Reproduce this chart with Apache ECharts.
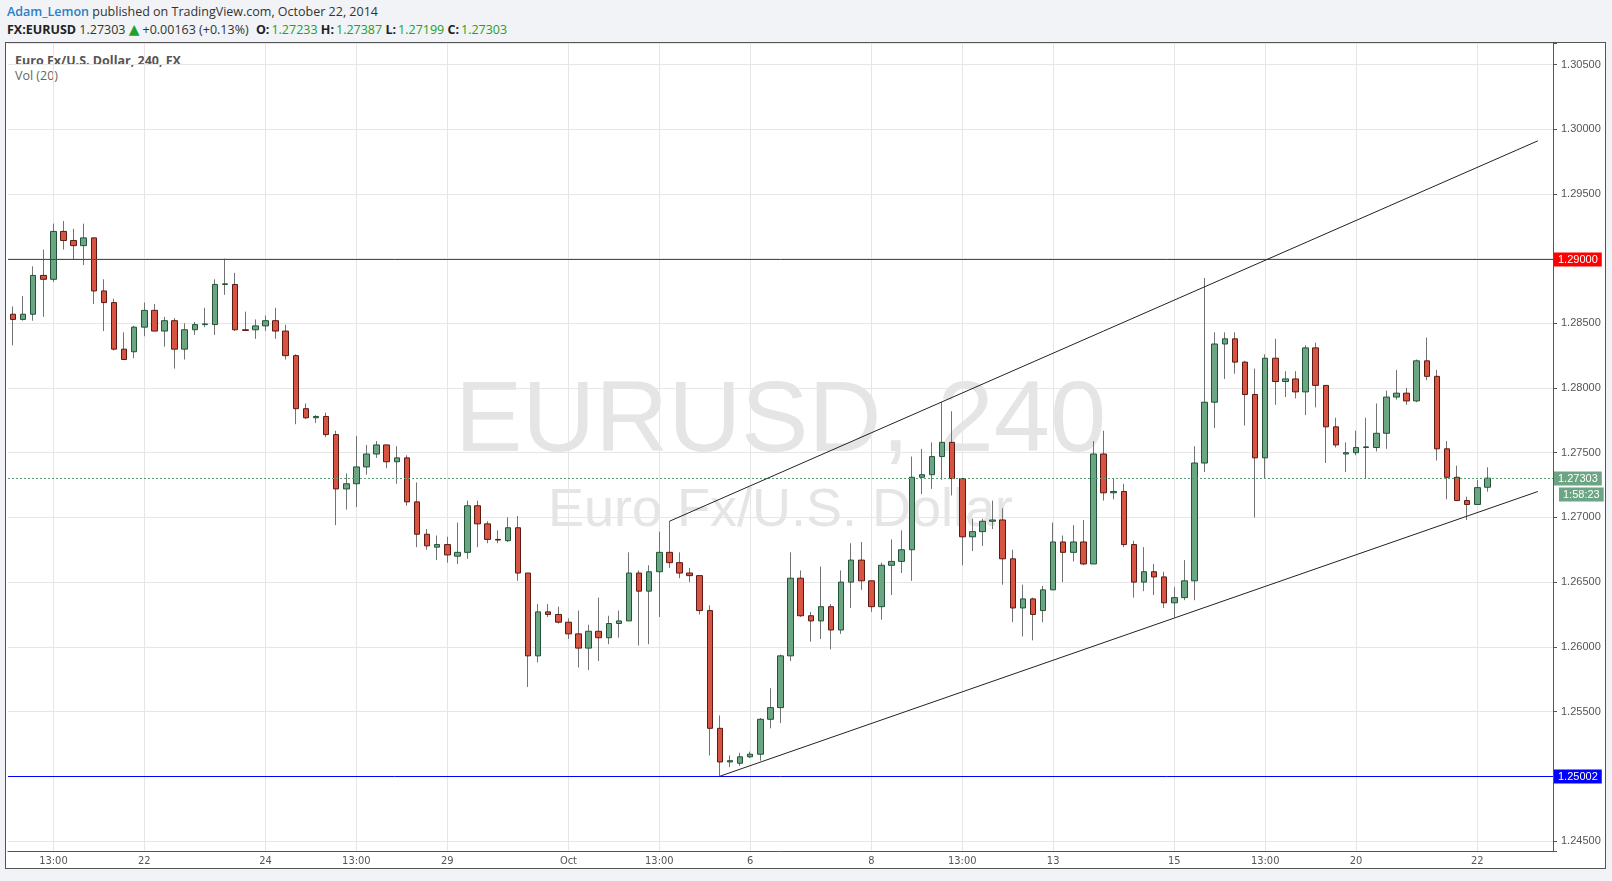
<!DOCTYPE html>
<html>
<head>
<meta charset="utf-8">
<script src="https://cdn.jsdelivr.net/npm/echarts@6/dist/echarts.min.js"></script>
<style>
html,body{margin:0;padding:0;width:1612px;height:881px;overflow:hidden;background:#f1f3f6;}
#panel{position:absolute;left:5px;top:42px;width:1601px;height:827px;box-sizing:border-box;border:1px solid #555;background:#fff;}
.hd{position:absolute;left:7px;font-family:'Open Sans',sans-serif;font-size:12.5px;line-height:18px;color:#333;white-space:nowrap;}
#h1{top:3px;}
#h2{top:20px;}
.b{font-weight:bold;color:#222;}
.g{color:#22a02a;margin-left:2px;}
.tri{color:#22a02a;font-size:14px;font-family:'DejaVu Sans',sans-serif;margin-right:3px;}
.lg{position:absolute;left:15px;font-family:'Open Sans',sans-serif;font-size:12.5px;line-height:16px;white-space:nowrap;}
#lg1{top:53px;font-weight:bold;color:#555;}
#lg2{top:68px;color:#666;}
.wm{position:absolute;left:8px;width:1545px;text-align:center;font-family:'Liberation Sans',Arial,sans-serif;color:#e5e5e5;white-space:nowrap;}
#wm1{top:366px;font-size:101px;line-height:101px;}
#wm2{top:480px;font-size:54px;line-height:54px;}
#chart{position:absolute;left:0;top:0;width:1612px;height:881px;}
</style>
</head>
<body>
<div class="hd" id="h1"><span style="color:#2a7fc4;font-weight:600">Adam_Lemon</span> published on TradingView.com, October 22, 2014</div>
<div class="hd" id="h2"><span class="b">FX:EURUSD</span> 1.27303 <span class="tri">&#9650;</span>+0.00163 (+0.13%) <span class="b" style="margin-left:4px">O:</span><span class="g">1.27233</span> <span class="b">H:</span><span class="g">1.27387</span> <span class="b">L:</span><span class="g">1.27199</span> <span class="b">C:</span><span class="g">1.27303</span></div>
<div id="panel"></div>
<div class="wm" id="wm1">EURUSD, 240</div>
<div class="wm" id="wm2">Euro Fx/U.S. Dollar</div>
<div class="lg" id="lg1">Euro Fx/U.S. Dollar, 240, FX</div>
<div class="lg" id="lg2">Vol (20)</div>
<div id="chart"></div>
<script>
// ---- data (4h candles, EUR/USD) ----
const open = [
1.2857,1.2853,1.2857,1.2887,1.2884,1.2921,1.2914,1.2910,1.2916,1.2875,
1.2866,1.2830,1.2828,1.2847,1.2860,1.2844,1.2852,1.2830,1.2845,1.2849,
1.2849,1.2880,1.2880,1.2845,1.2845,1.2848,1.2852,1.2844,1.2825,1.2784,
1.2777,1.2778,1.2764,1.2722,1.2726,1.2739,1.2749,1.2756,1.2743,1.2746,
1.2712,1.2687,1.2677,1.2679,1.2670,1.2673,1.2709,1.2695,1.2683,1.2682,
1.2692,1.2657,1.2593,1.2627,1.2625,1.2619,1.2610,1.2599,1.2612,1.2607,
1.2618,1.2620,1.2657,1.2643,1.2658,1.2673,1.2665,1.2657,1.2655,1.2628,
1.2537,1.2511,1.2510,1.2515,1.2517,1.2544,1.2553,1.2593,1.2653,1.2624,
1.2620,1.2631,1.2613,1.2650,1.2667,1.2651,1.2631,1.2663,1.2666,1.2675,
1.2731,1.2733,1.2747,1.2758,1.2730,1.2685,1.2689,1.2697,1.2698,1.2668,
1.2630,1.2637,1.2628,1.2644,1.2681,1.2673,1.2681,1.2664,1.2749,1.2719,
1.2720,1.2679,1.2650,1.2658,1.2654,1.2634,1.2638,1.2651,1.2742,1.2789,
1.2834,1.2838,1.2820,1.2795,1.2746,1.2823,1.2805,1.2807,1.2797,1.2831,
1.2802,1.2770,1.2749,1.2750,1.2754,1.2754,1.2765,1.2793,1.2796,1.2790,
1.2821,1.2809,1.2753,1.2731,1.2713,1.2710,1.27233
];
const close = [
1.2853,1.2857,1.2887,1.2884,1.2921,1.2914,1.2910,1.2916,1.2875,1.2866,
1.2830,1.2822,1.2847,1.2860,1.2844,1.2852,1.2830,1.2845,1.2849,1.28495,
1.2880,1.28805,1.2845,1.28445,1.2848,1.2852,1.2844,1.2825,1.2784,1.2777,
1.2778,1.2764,1.2722,1.2726,1.2739,1.2749,1.2756,1.2743,1.2746,1.2712,
1.2687,1.2678,1.2679,1.2671,1.2673,1.2709,1.2695,1.2683,1.26825,1.2692,
1.2657,1.2593,1.2627,1.2625,1.2619,1.2610,1.2599,1.2612,1.2607,1.2618,
1.2620,1.2657,1.2643,1.2658,1.2673,1.2665,1.2657,1.2655,1.2628,1.2537,
1.2511,1.2512,1.2515,1.2517,1.2544,1.2553,1.2593,1.2653,1.2624,1.2620,
1.2631,1.2613,1.2650,1.2667,1.2651,1.2631,1.2663,1.2666,1.2675,1.2731,
1.2733,1.2747,1.2758,1.2730,1.2685,1.2689,1.2697,1.2698,1.2668,1.2630,
1.2637,1.2625,1.2644,1.2681,1.2673,1.2681,1.2664,1.2749,1.2719,1.2720,
1.2679,1.2650,1.2658,1.2654,1.2634,1.2638,1.2651,1.2742,1.2789,1.2834,
1.2838,1.2820,1.2795,1.2746,1.2823,1.2805,1.2807,1.2797,1.2831,1.2802,
1.2770,1.2756,1.2750,1.2754,1.27545,1.2765,1.2793,1.2796,1.2790,1.2821,
1.2809,1.2753,1.2731,1.2713,1.2710,1.2723,1.27303
];
const low = [
1.2833,1.2852,1.2852,1.2855,1.2882,1.2907,1.2899,1.2895,1.2865,1.2844,
1.2829,1.2822,1.2823,1.2840,1.2844,1.2832,1.2815,1.2822,1.2841,1.2847,
1.2841,1.2872,1.2844,1.2844,1.2838,1.2844,1.2838,1.2822,1.2772,1.2776,
1.2773,1.2762,1.2694,1.2706,1.2708,1.2733,1.2746,1.2738,1.2726,1.2709,
1.2677,1.2675,1.2667,1.2665,1.2664,1.2668,1.2677,1.2680,1.2680,1.2681,
1.2651,1.2569,1.2588,1.2623,1.2618,1.2606,1.2584,1.2582,1.2589,1.2602,
1.2607,1.2620,1.2601,1.2602,1.2623,1.2661,1.2653,1.2650,1.2625,1.2516,
1.2500,1.2507,1.2508,1.2514,1.2512,1.2537,1.2541,1.2589,1.2623,1.2604,
1.2606,1.2598,1.2610,1.2630,1.2644,1.2627,1.2621,1.2640,1.2657,1.2651,
1.2718,1.2722,1.2729,1.2717,1.2663,1.2674,1.2678,1.2691,1.2648,1.2619,
1.2608,1.2605,1.2619,1.2644,1.2650,1.2666,1.2663,1.2664,1.2713,1.2714,
1.2677,1.2638,1.2643,1.2640,1.2630,1.2623,1.2636,1.2636,1.2735,1.2769,
1.2807,1.2811,1.2771,1.2700,1.2730,1.2787,1.2793,1.2792,1.2779,1.2785,
1.2742,1.2754,1.2735,1.2748,1.2730,1.2751,1.2753,1.2791,1.2787,1.2789,
1.2806,1.2744,1.2714,1.2713,1.2698,1.2710,1.27199
];
const high = [
1.2863,1.2871,1.2894,1.2907,1.2927,1.2929,1.2923,1.2927,1.2916,1.2884,
1.2869,1.2843,1.2848,1.2866,1.2865,1.2855,1.2854,1.2850,1.2851,1.2862,
1.2884,1.2900,1.2889,1.2859,1.2853,1.2856,1.2862,1.2849,1.2826,1.2788,
1.2779,1.2781,1.2767,1.2734,1.2763,1.2756,1.2759,1.2756,1.2755,1.2748,
1.2727,1.2691,1.2686,1.2685,1.2696,1.2713,1.2713,1.2697,1.2690,1.2700,
1.2701,1.2657,1.2633,1.2633,1.2631,1.2622,1.2628,1.2617,1.2638,1.2624,
1.2628,1.2673,1.2659,1.2663,1.2689,1.2697,1.2673,1.2661,1.2655,1.2632,
1.2547,1.2516,1.2518,1.2519,1.2545,1.2568,1.2594,1.2673,1.2659,1.2627,
1.2662,1.2633,1.2659,1.2680,1.2681,1.2651,1.2665,1.2683,1.2690,1.2747,
1.2753,1.2758,1.2789,1.2782,1.2730,1.2699,1.2699,1.2713,1.2707,1.2675,
1.2648,1.2638,1.2647,1.2696,1.2686,1.2694,1.2698,1.2759,1.2767,1.2730,
1.2726,1.2682,1.2677,1.2664,1.2658,1.2646,1.2667,1.2755,1.2885,1.2843,
1.2843,1.2843,1.2821,1.2815,1.2826,1.2838,1.2813,1.2813,1.2833,1.2835,
1.2802,1.2777,1.2758,1.2767,1.2777,1.2788,1.2798,1.2814,1.2800,1.2822,
1.2839,1.2814,1.2759,1.2740,1.2716,1.2729,1.27387
];
// tick labels: candle index -> text
const tickIndex = [4, 13, 25, 34, 43, 55, 64, 73, 85, 94, 103, 115, 124, 133, 145];
const tickText  = ['13:00','22','24','13:00','29','Oct','13:00','6','8','13:00','13','15','13:00','20','22'];
const slotCount = 153;               // 147 candles + empty slots on the right
const categories = Array.from({length: slotCount}, (_, i) => String(i));
// horizontal levels: resistance, support, last price
const levelValues = [1.29000, 1.25002, 1.27303];
const levelColors = ['#ff0000', '#0000ff', '#5a9e78'];
const levelBoxColors = ['#ff0000', '#0000ff', '#6ba583'];
const countdown = '1:58:23';
const upperChannel = [[65, 1.2697], [151, 1.2991]];
const lowerChannel = [[70, 1.2500], [151, 1.2720]];
const yMin = 1.24422, yMax = 1.30666;

const wickData = open.map((o, i) => [o, close[i], low[i], high[i]]);
const bodyData = open.map((o, i) => [o, close[i], Math.min(o, close[i]), Math.max(o, close[i])]);

const tickMap = {};
tickIndex.forEach((k, j) => tickMap[k] = tickText[j]);
const solid = (c) => ({color: c, type: 'solid', width: 1, opacity: 1});
const boxFont = '11px "Liberation Sans", Arial, sans-serif';

function renderLevel(params, api) {
  const i = params.dataIndex;
  const cs = params.coordSys;
  const y = Math.round(api.coord([0, api.value(1)])[1]) + 0.5;
  const x1 = cs.x, x2 = cs.x + cs.width;
  const children = [
    {type: 'line', shape: {x1: x1, y1: y, x2: x2, y2: y},
     style: {stroke: levelColors[i], lineWidth: 1, lineDash: i === 2 ? [2, 2] : null}},
    {type: 'text', x: x2 + 1, y: y,
     style: {text: levelValues[i].toFixed(5), fill: '#ffffff', backgroundColor: levelBoxColors[i],
             padding: [2, 4, 1, 4], font: boxFont, verticalAlign: 'middle', align: 'left'}}
  ];
  if (i === 2) {
    children.push({type: 'text', x: x2 + 6, y: y + 16,
      style: {text: countdown, fill: '#ffffff', backgroundColor: levelBoxColors[i],
              padding: [2, 4, 1, 4], font: boxFont, verticalAlign: 'middle', align: 'left'}});
  }
  return {type: 'group', children: children};
}

const chart = echarts.init(document.getElementById('chart'));
chart.setOption({
  animation: false,
  grid: {left: 8, top: 43, width: 1545, height: 808, containLabel: false},
  xAxis: {
    type: 'category', data: categories, boundaryGap: true,
    axisLine: {show: true, lineStyle: {color: '#555', width: 1}},
    axisTick: {show: false},
    splitLine: {show: false},
    axisLabel: {
      interval: (i) => tickMap[i] !== undefined,
      formatter: (v, i) => tickMap[i] || '',
      color: '#555', fontSize: 11, margin: 5,
      fontFamily: 'Liberation Sans Narrow, DejaVu Sans Condensed, Liberation Sans, sans-serif'
    }
  },
  yAxis: {
    type: 'value', position: 'right', min: yMin, max: yMax, splitNumber: 12, scale: true,
    axisLine: {show: true, lineStyle: {color: '#555', width: 1}},
    axisTick: {show: true, length: 4, lineStyle: {color: '#555'}},
    axisLabel: {
      formatter: (v) => (Math.abs(v * 200 - Math.round(v * 200)) < 1e-6 ? v.toFixed(5) : ''),
      color: '#555', fontSize: 11, margin: 8,
      fontFamily: 'Liberation Sans, Arial, sans-serif'
    },
    splitLine: {show: true, lineStyle: {color: '#e6e6e6', width: 1}}
  },
  series: [
    {
      type: 'candlestick', name: 'wick', data: wickData, barWidth: 0.001, z: 2,
      itemStyle: {color: '#737375', color0: '#737375', borderColor: '#737375', borderColor0: '#737375', borderWidth: 1},
      silent: true,
      markLine: {
        silent: true, symbol: ['none', 'none'], z: 1, animation: false, precision: 5,
        label: {show: false},
        lineStyle: solid('#e6e6e6'),
        data: tickIndex.map(k => ({xAxis: k}))
      }
    },
    {
      type: 'candlestick', name: 'body', data: bodyData, barWidth: 6, z: 3,
      itemStyle: {color: '#6ba583', color0: '#d75442', borderColor: '#225437', borderColor0: '#5b1a13', borderWidth: 1},
      silent: true,
      markLine: {
        silent: true, symbol: ['none', 'none'], animation: false, precision: 5,
        label: {show: false},
        lineStyle: solid('#222222'),
        data: [
          [{coord: upperChannel[0]}, {coord: upperChannel[1]}],
          [{coord: lowerChannel[0]}, {coord: lowerChannel[1]}]
        ]
      }
    },
    {
      type: 'custom', name: 'levels', silent: true, z: 4, clip: false,
      renderItem: renderLevel,
      encode: {x: 0, y: 1},
      data: levelValues.map(v => [0, v])
    }
  ]
});
</script>
</body>
</html>
